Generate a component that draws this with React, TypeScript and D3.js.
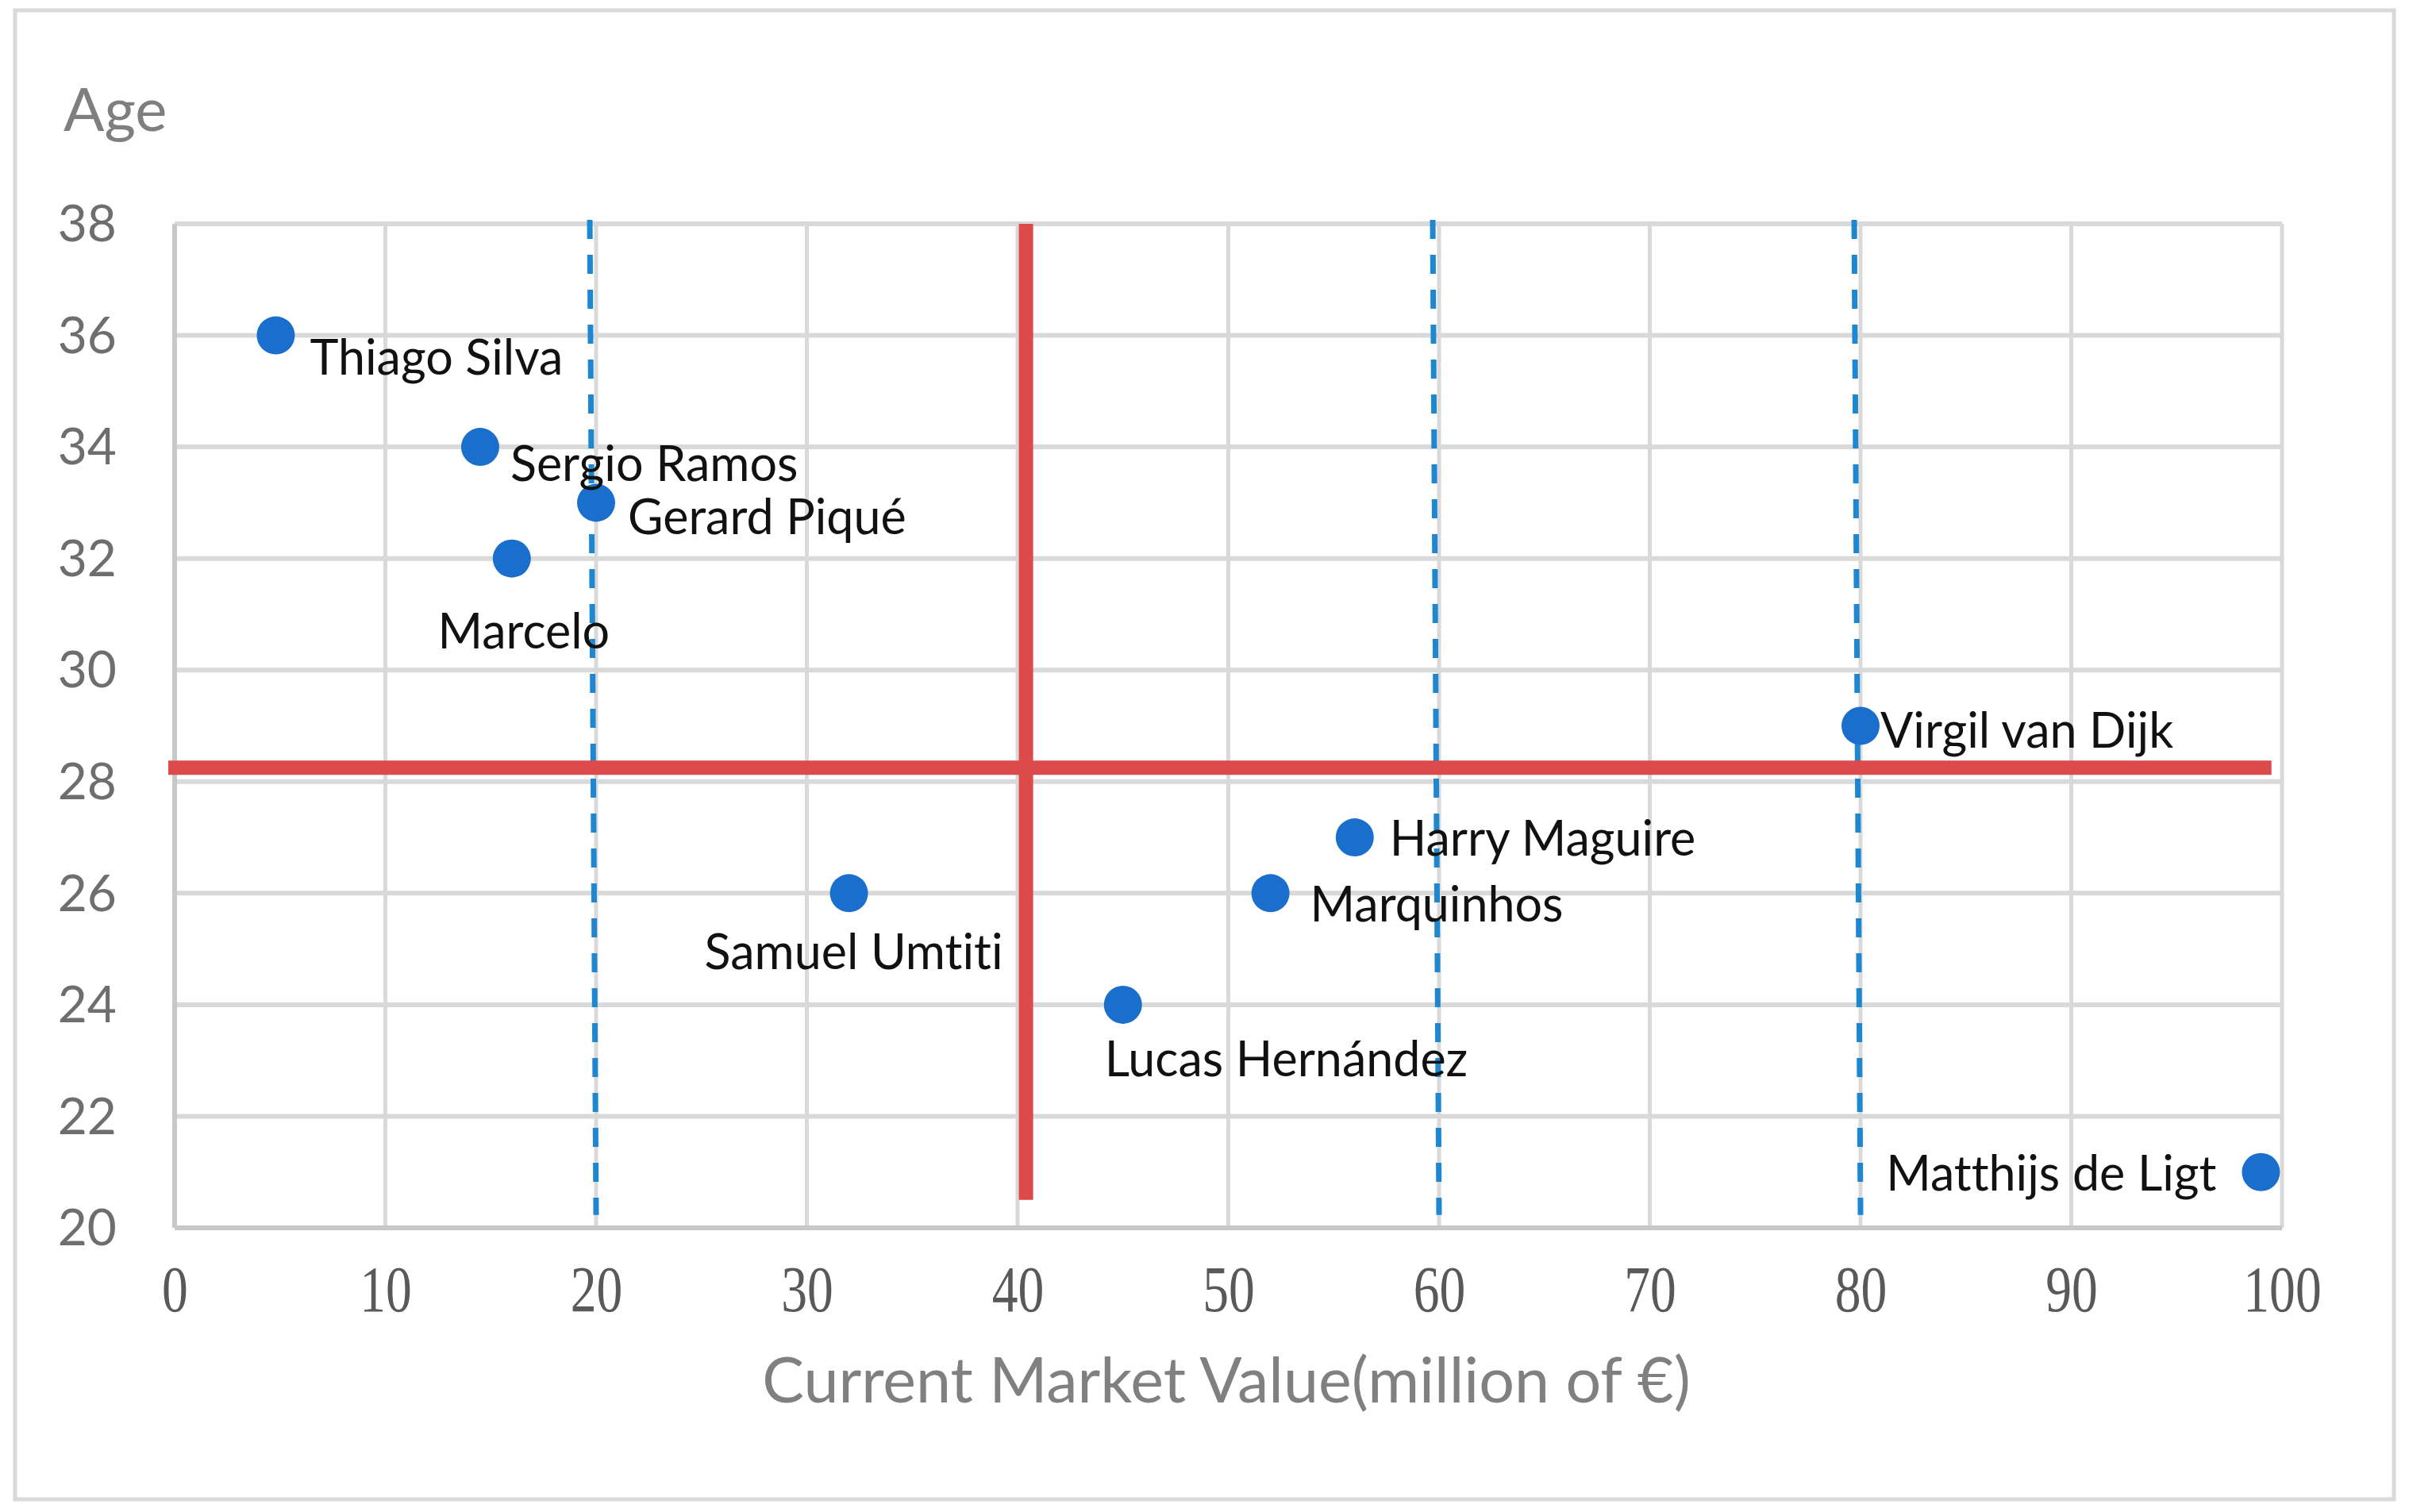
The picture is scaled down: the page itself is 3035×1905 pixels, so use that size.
import React, { useRef, useEffect } from 'react';
import * as d3 from 'd3';

const players = [
  'Thiago Silva',
  'Sergio Ramos',
  'Gerard Piqué',
  'Marcelo',
  'Samuel Umtiti',
  'Lucas Hernández',
  'Marquinhos',
  'Harry Maguire',
  'Virgil van Dijk',
  'Matthijs de Ligt',
];
const marketValues = [4.8, 14.5, 20, 16, 32, 45, 52, 56, 80, 99];
const ages = [36, 34, 33, 32, 26, 24, 26, 27, 29, 21];

const xTicks = [0, 10, 20, 30, 40, 50, 60, 70, 80, 90, 100];
const yTicks = [20, 22, 24, 26, 28, 30, 32, 34, 36, 38];

// quadrant dividers (red) and value bands (blue dashed)
const quadrantLines = [
  { x1: -0.3, y1: 28.25, x2: 99.5, y2: 28.25 },
  { x1: 40.4, y1: 38, x2: 40.4, y2: 20.5 },
];
const bandLines = [
  { x1: 19.7, y1: 38.07, x2: 20, y2: 20.23 },
  { x1: 59.7, y1: 38.07, x2: 60, y2: 20.23 },
  { x1: 79.7, y1: 38.07, x2: 80, y2: 20.23 },
];

// label placement relative to the dot centre
const labelPlacement: Record<string, { anchor: string; dx: number; dy: number }> = {
  'Thiago Silva': { anchor: 'start', dx: 43, dy: 49 },
  'Sergio Ramos': { anchor: 'start', dx: 38, dy: 43 },
  'Gerard Piqué': { anchor: 'start', dx: 40, dy: 40 },
  Marcelo: { anchor: 'middle', dx: 15, dy: 113 },
  'Samuel Umtiti': { anchor: 'middle', dx: 6, dy: 96 },
  'Lucas Hernández': { anchor: 'start', dx: -23, dy: 90 },
  Marquinhos: { anchor: 'start', dx: 50, dy: 36 },
  'Harry Maguire': { anchor: 'start', dx: 44, dy: 23 },
  'Virgil van Dijk': { anchor: 'start', dx: 25, dy: 27 },
  'Matthijs de Ligt': { anchor: 'end', dx: -56, dy: 23 },
};

const W = 3035;
const H = 1905;
const margin = { top: 282, right: 160, bottom: 358, left: 220 };
const sans = 'Lato, "Open Sans", sans-serif';

const ScatterChart: React.FC = () => {
  const svgRef = useRef<SVGSVGElement | null>(null);

  useEffect(() => {
    document.body.style.margin = '0';
    const svg = d3.select(svgRef.current);
    svg.selectAll('*').remove();

    const x = d3.scaleLinear().domain([0, 100]).range([margin.left, W - margin.right]);
    const y = d3.scaleLinear().domain([20, 38]).range([H - margin.bottom, margin.top]);

    // outer frame
    svg.append('rect')
      .attr('x', 19).attr('y', 13)
      .attr('width', 2997).attr('height', 1876)
      .attr('fill', '#fff')
      .attr('stroke', '#d9d9d9')
      .attr('stroke-width', 5);

    // gridlines
    const grid = svg.append('g');
    grid.selectAll('line.h')
      .data(yTicks)
      .join('line')
      .attr('x1', x(0)).attr('x2', x(100))
      .attr('y1', d => y(d)).attr('y2', d => y(d))
      .attr('stroke', '#d9d9d9')
      .attr('stroke-width', 6);
    grid.selectAll('line.v')
      .data(xTicks)
      .join('line')
      .attr('x1', d => x(d)).attr('x2', d => x(d))
      .attr('y1', y(38)).attr('y2', y(20))
      .attr('stroke', '#d9d9d9')
      .attr('stroke-width', 5);

    // axis lines
    svg.append('line')
      .attr('x1', x(0)).attr('x2', x(100))
      .attr('y1', y(20)).attr('y2', y(20))
      .attr('stroke', '#c8c8c8').attr('stroke-width', 6);
    svg.append('line')
      .attr('x1', x(0)).attr('x2', x(0))
      .attr('y1', y(38)).attr('y2', y(20))
      .attr('stroke', '#c8c8c8').attr('stroke-width', 6);

    // x axis tick labels
    const xAxis = svg.append('g')
      .attr('transform', `translate(0,${y(20)})`)
      .call(d3.axisBottom(x).tickValues(xTicks).tickSize(0).tickPadding(0));
    xAxis.select('.domain').remove();
    xAxis.selectAll('text')
      .attr('y', 105)
      .attr('dy', 0)
      .attr('transform', 'scale(0.8,1)')
      .attr('font-family', '"Liberation Serif", serif')
      .attr('font-size', 82)
      .attr('fill', '#595959');

    // y axis tick labels
    const yAxis = svg.append('g')
      .attr('transform', `translate(${x(0)},0)`)
      .call(d3.axisLeft(y).tickValues(yTicks).tickSize(0).tickPadding(73));
    yAxis.select('.domain').remove();
    yAxis.selectAll('text')
      .attr('dy', '0.34em')
      .attr('font-family', sans)
      .attr('font-size', 64)
      .attr('fill', '#6e6e6e');

    // blue dashed band lines
    svg.append('g')
      .selectAll('line')
      .data(bandLines)
      .join('line')
      .attr('x1', d => x(d.x1)).attr('y1', d => y(d.y1))
      .attr('x2', d => x(d.x2)).attr('y2', d => y(d.y2))
      .attr('stroke', '#1f86d0')
      .attr('stroke-width', 7)
      .attr('stroke-dasharray', '24 20');

    // red quadrant lines
    svg.append('g')
      .selectAll('line')
      .data(quadrantLines)
      .join('line')
      .attr('x1', d => x(d.x1)).attr('y1', d => y(d.y1))
      .attr('x2', d => x(d.x2)).attr('y2', d => y(d.y2))
      .attr('stroke', '#dc4a4a')
      .attr('stroke-width', 18);

    const points = players.map((name, i) => ({ name, value: marketValues[i], age: ages[i] }));

    // dots
    svg.append('g')
      .selectAll('circle')
      .data(points)
      .join('circle')
      .attr('cx', d => x(d.value))
      .attr('cy', d => y(d.age))
      .attr('r', 24)
      .attr('fill', '#1a6fcc');

    // labels
    svg.append('g')
      .selectAll('text')
      .data(points)
      .join('text')
      .attr('x', d => x(d.value) + labelPlacement[d.name].dx)
      .attr('y', d => y(d.age) + labelPlacement[d.name].dy)
      .attr('text-anchor', d => labelPlacement[d.name].anchor)
      .attr('font-family', sans)
      .attr('font-size', 61)
      .attr('fill', '#111')
      .style('font-variant-ligatures', 'none')
      .text(d => d.name);

    // axis titles
    svg.append('text')
      .attr('x', 80).attr('y', 165)
      .attr('font-family', sans)
      .attr('font-size', 76)
      .attr('fill', '#7f7f7f')
      .text('Age');
    svg.append('text')
      .attr('x', 1545).attr('y', 1767)
      .attr('text-anchor', 'middle')
      .attr('font-family', sans)
      .attr('font-size', 79)
      .attr('fill', '#808080')
      .style('font-variant-ligatures', 'none')
      .text('Current Market Value(million of €)');
  }, []);

  return <svg ref={svgRef} width={W} height={H} style={{ display: 'block' }} />;
};

const App: React.FC = () => <ScatterChart />;

export default App;
